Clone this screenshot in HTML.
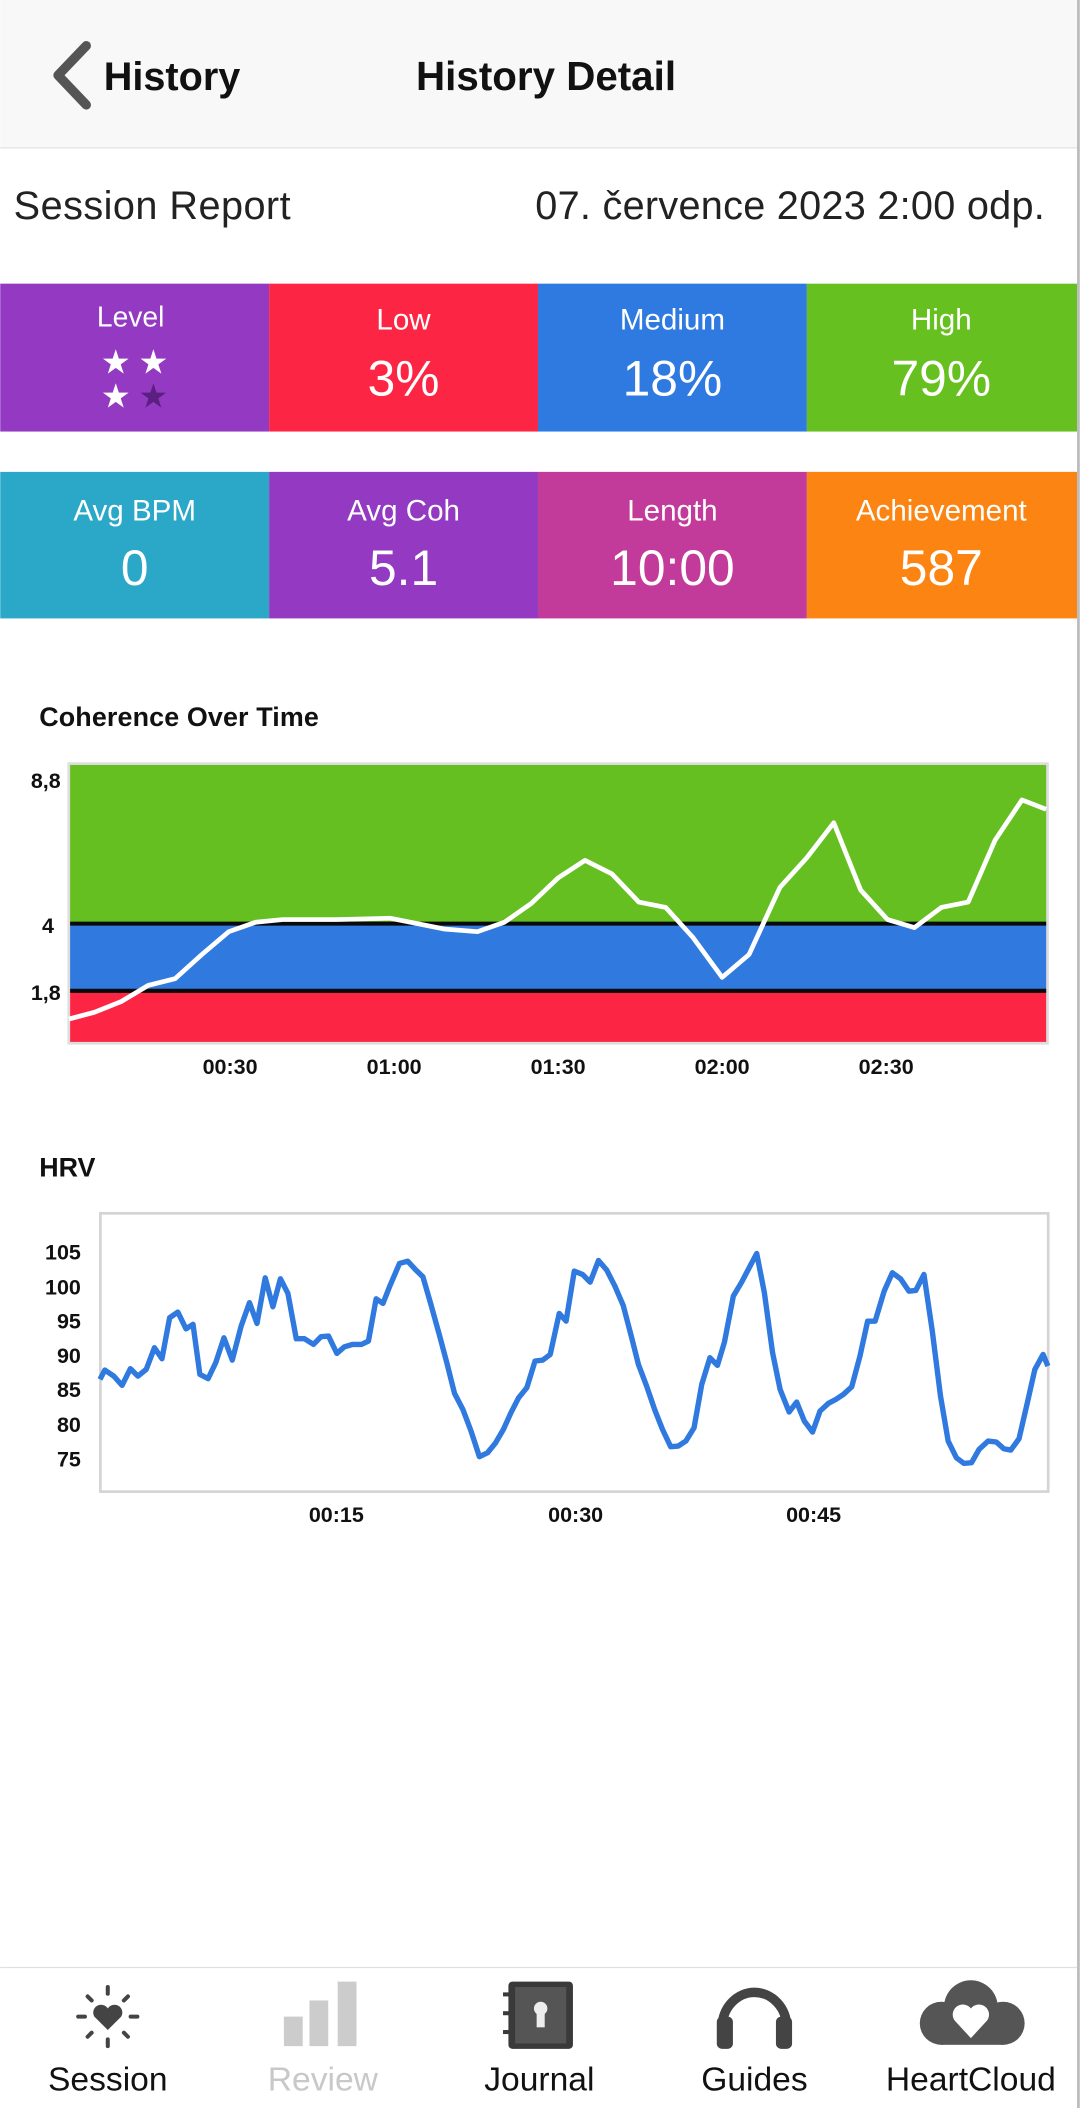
<!DOCTYPE html>
<html><head><meta charset="utf-8"><style>
html,body{margin:0;padding:0;background:#fff;}
svg{display:block;font-family:"Liberation Sans",sans-serif;}
</style></head><body>
<svg id="s" width="1080" height="2108" viewBox="0 0 803 1568" xmlns="http://www.w3.org/2000/svg">
<rect x="0" y="0" width="803" height="1568" fill="#fff"/>
<rect x="0" y="0" width="803" height="110" fill="#f8f8f8"/>
<line x1="0" y1="110" x2="803" y2="110" stroke="#e2e2e2" stroke-width="1"/>
<polyline points="64,34 43,56 64,78" fill="none" stroke="#555" stroke-width="7" stroke-linecap="round" stroke-linejoin="round"/>
<text x="77" y="67" font-size="29.5" font-weight="bold" fill="#111">History</text>
<text x="406" y="67" font-size="30" font-weight="bold" fill="#111" text-anchor="middle">History Detail</text>
<text x="10" y="163" font-size="29.5" fill="#222" textLength="206">Session Report</text>
<text x="777" y="163" font-size="29.5" fill="#222" text-anchor="end" textLength="379">07. července 2023 2:00 odp.</text>
<rect x="0" y="211" width="200" height="110" fill="#9339c2"/>
<rect x="200" y="211" width="200" height="110" fill="#fc2644"/>
<rect x="400" y="211" width="200" height="110" fill="#2f7ae0"/>
<rect x="600" y="211" width="201" height="110" fill="#66c020"/>
<g fill="#fff" text-anchor="middle">
<text x="97" y="243" font-size="21">Level</text>
<text x="300" y="245" font-size="22">Low</text>
<text x="500" y="245" font-size="22">Medium</text>
<text x="700" y="245" font-size="22">High</text>
<text x="300" y="294" font-size="37" fill="#fff" style="font-weight:300">3%</text>
<text x="500" y="294" font-size="37">18%</text>
<text x="700" y="294" font-size="37">79%</text>
<text x="86" y="278" font-size="25">★</text>
<text x="114" y="278" font-size="25">★</text>
<text x="86" y="303" font-size="25">★</text>
<text x="114" y="303" font-size="25" fill="#5a1f80">★</text>
</g>
<rect x="0" y="351" width="200" height="109" fill="#2ba8c8"/>
<rect x="200" y="351" width="200" height="109" fill="#9339c2"/>
<rect x="400" y="351" width="200" height="109" fill="#c23b9a"/>
<rect x="600" y="351" width="201" height="109" fill="#fb8412"/>
<g fill="#fff" text-anchor="middle">
<text x="100" y="387" font-size="22">Avg BPM</text>
<text x="300" y="387" font-size="22">Avg Coh</text>
<text x="500" y="387" font-size="22">Length</text>
<text x="700" y="387" font-size="22">Achievement</text>
<text x="100" y="435" font-size="37">0</text>
<text x="300" y="435" font-size="37">5.1</text>
<text x="500" y="435" font-size="37">10:00</text>
<text x="700" y="435" font-size="37">587</text>
</g>
<text x="29" y="540" font-size="20" font-weight="bold" fill="#111" textLength="208">Coherence Over Time</text>
<rect x="50" y="567" width="730" height="210" fill="#ddd"/>
<rect x="52" y="569" width="726" height="118" fill="#66bf21"/>
<rect x="52" y="687" width="726" height="50" fill="#2f79df"/>
<rect x="52" y="737" width="726" height="38" fill="#fc2644"/>
<line x1="52" y1="687" x2="778" y2="687" stroke="#0a0a0a" stroke-width="3"/>
<line x1="52" y1="737" x2="778" y2="737" stroke="#0a0a0a" stroke-width="3"/>
<polyline fill="none" stroke="#fff" stroke-width="3.5" stroke-linejoin="round" points="51,758 70,753 90,745 110,733 130,728 150,710 170,693 190,686 210,684 250,684 290,683 310,687 330,691 355,693 375,686 395,672 415,653 435,640 455,650 475,671 495,675 515,697 537,727 557,710 580,660 600,638 620,612 640,662 660,684 680,690 700,675 720,671 740,625 760,595 778,602"/>
<g font-size="16" fill="#111" font-weight="bold">
<text x="45" y="586" text-anchor="end">8,8</text>
<text x="40" y="694" text-anchor="end">4</text>
<text x="45" y="744" text-anchor="end">1,8</text>
</g>
<g font-size="16" font-weight="bold" fill="#111" text-anchor="middle">
<text x="171" y="799">00:30</text><text x="293" y="799">01:00</text><text x="415" y="799">01:30</text><text x="537" y="799">02:00</text><text x="659" y="799">02:30</text>
</g>
<text x="29" y="875" font-size="20" font-weight="bold" fill="#111">HRV</text>
<rect x="74.5" y="902.5" width="705" height="207" fill="#fff" stroke="#d4d4d4" stroke-width="2"/>
<polyline id="hrv" fill="none" stroke="#2f79df" stroke-width="4" stroke-linejoin="round" points=""/>
<g font-size="16" fill="#111" text-anchor="end" font-weight="bold">
<text x="60" y="937">105</text><text x="60" y="963">100</text><text x="60" y="988">95</text><text x="60" y="1014">90</text><text x="60" y="1039">85</text><text x="60" y="1065">80</text><text x="60" y="1091">75</text>
</g>
<g font-size="16" font-weight="bold" fill="#111" text-anchor="middle">
<text x="250" y="1132">00:15</text><text x="428" y="1132">00:30</text><text x="605" y="1132">00:45</text>
</g>
<rect x="801" y="0" width="2" height="1568" fill="#bbb"/>
<line x1="0" y1="1463.5" x2="801" y2="1463.5" stroke="#e0e0e0"/>
<g fill="#111" font-size="25" text-anchor="middle">
<text x="80" y="1555">Session</text>
<text x="240" y="1555" fill="#c8c8c8">Review</text>
<text x="401" y="1555">Journal</text>
<text x="561" y="1555">Guides</text>
<text x="722" y="1555">HeartCloud</text>
</g>
<g transform="translate(80,1500)" stroke="#444" stroke-width="3" stroke-linecap="round">
<line x1="0" y1="-22" x2="0" y2="-17"/><line x1="0" y1="17" x2="0" y2="22"/>
<line x1="-22" y1="0" x2="-17" y2="0"/><line x1="17" y1="0" x2="22" y2="0"/>
<line x1="-15" y1="-15" x2="-12" y2="-12"/><line x1="15" y1="-15" x2="12" y2="-12"/>
<line x1="-15" y1="15" x2="-12" y2="12"/><line x1="15" y1="15" x2="12" y2="12"/>
<path d="M0,10 L-10,0 A5,5 0 0 1 0,-6 A5,5 0 0 1 10,0 Z" fill="#444" stroke="none"/>
</g>
<g fill="#ccc"><rect x="211" y="1500" width="14" height="22"/><rect x="230" y="1488" width="14" height="34"/><rect x="251" y="1474" width="14" height="48"/></g>
<g><rect x="378" y="1474" width="48" height="50" rx="3" fill="#3a3a3a"/><rect x="383" y="1478" width="38" height="42" fill="#555"/>
<circle cx="402" cy="1494" r="5" fill="#eee"/><rect x="399" y="1496" width="6" height="12" fill="#eee"/>
<rect x="374" y="1482" width="8" height="3" fill="#3a3a3a"/><rect x="374" y="1496" width="8" height="3" fill="#3a3a3a"/><rect x="374" y="1510" width="8" height="3" fill="#3a3a3a"/></g>
<g><path d="M537,1508 A24,26 0 0 1 585,1508" fill="none" stroke="#444" stroke-width="7"/>
<rect x="533" y="1500" width="12" height="24" rx="4" fill="#444"/><rect x="577" y="1500" width="12" height="24" rx="4" fill="#444"/></g>
<g fill="#555"><circle cx="700" cy="1505" r="16"/><circle cx="722" cy="1493" r="20"/><circle cx="746" cy="1505" r="16"/><rect x="700" y="1500" width="46" height="21"/>
<path d="M722,1516 L710,1503 A7,7 0 0 1 722,1494 A7,7 0 0 1 734,1503 Z" fill="#fff"/></g>
</svg>
<script>
var z=[[145,720],[152,692],[165,710],[177,738],[189,688],[200,710],[212,690],[224,625],[235,658],[246,535],[258,518],[270,568],[280,555],[290,705],[302,718],[313,670],[325,595],[337,662],[350,560],[362,490],[373,552],[385,415],[396,502],[407,418],[418,462],[430,598],[442,598],[455,615],[466,592],[477,590],[489,642],[500,622],[512,615],[525,615],[535,605],[546,478],[556,492],[566,440],[580,372],[592,365],[603,390],[614,412],[625,490],[637,580],[649,672],[660,762],[672,810],[684,875],[696,952],[708,940],[719,912],[731,870],[742,820],[753,775],[765,745],[777,665],[788,662],[799,645],[812,522],[822,545],[834,395],[846,405],[857,428],[869,363],[881,392],[893,440],[905,498],[917,592],[927,675],[939,740],[951,812],[962,870],[974,922],[985,920],[996,905],[1008,865],[1019,735],[1031,655],[1042,678],[1052,608],[1065,470],[1077,428],[1088,385],[1099,342],[1110,460],[1122,640],[1133,750],[1146,818],[1157,788],[1168,845],[1180,878],[1191,815],[1203,792],[1214,780],[1225,765],[1237,742],[1249,650],[1260,545],[1271,545],[1284,455],[1296,400],[1308,418],[1320,455],[1330,453],[1342,405],[1354,575],[1366,770],[1377,905],[1389,955],[1400,972],[1411,970],[1422,930],[1435,905],[1447,908],[1458,928],[1468,932],[1480,898],[1492,790],[1503,690],[1515,645],[1522,680]];
document.getElementById('hrv').setAttribute('points',z.map(function(p){return (p[0]/1.953).toFixed(1)+','+(847.6+p[1]/4.035).toFixed(1)}).join(' '));
</script>
</body></html>
